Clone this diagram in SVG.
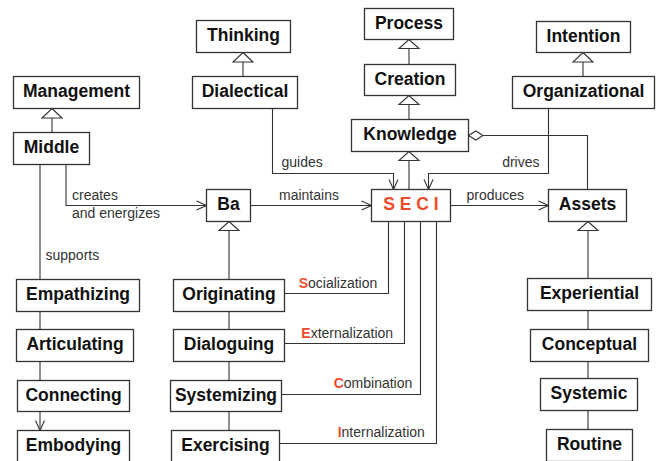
<svg xmlns="http://www.w3.org/2000/svg" width="660" height="461" viewBox="0 0 660 461">
<defs>
<style>
.box{fill:#fff;stroke:#333;stroke-width:1.3}
.nt{font-family:"Liberation Sans",Arial,sans-serif;font-weight:bold;font-size:17.5px;fill:#111;text-anchor:middle}
.lb{font-family:"Liberation Sans",Arial,sans-serif;font-size:14px;fill:#333}
.ln{fill:none;stroke:#333;stroke-width:1.1}
.tri{fill:#fff;stroke:#333;stroke-width:1.1}
.red{fill:#ee4b2b;font-weight:bold}
</style>
<marker id="open" markerUnits="userSpaceOnUse" markerWidth="14" markerHeight="14" viewBox="-12 -6 14 12" refX="0" refY="0" orient="auto">
<path d="M-10,-4.5 L0,0 L-10,4.5" fill="none" stroke="#333" stroke-width="1.1"/>
</marker>
</defs>
<rect width="660" height="461" fill="#fff"/>
<g id="connectors">
<path class="ln" d="M66,164.5 V205.5 H206.5" marker-end="url(#open)"/>
<path class="ln" d="M40,164.5 V430.5" marker-end="url(#open)"/>
<path class="ln" d="M250.5,205.5 H371.5" marker-end="url(#open)"/>
<path class="ln" d="M272.5,108.5 V173.5 H393.5 V189.5" marker-end="url(#open)"/>
<path class="ln" d="M548.5,108.5 V173.5 H428.5 V189.5" marker-end="url(#open)"/>
<path class="ln" d="M483,135.5 H587.5 V189.5"/>
<path class="tri" d="M468.5,135.5 L475.8,131 L483,135.5 L475.8,140 Z"/>
<path class="ln" d="M450.5,205.5 H548.5" marker-end="url(#open)"/>
<path class="ln" d="M284.5,293.5 H388.5 V221.5"/>
<path class="ln" d="M284.5,343.5 H404.5 V221.5"/>
<path class="ln" d="M281.5,394.5 H420.5 V221.5"/>
<path class="ln" d="M279.5,443.5 H436.5 V221.5"/>
<path class="ln" d="M52,118 V132.5"/>
<path class="tri" d="M52,108.5 L62,118 L42,118 Z"/>
<path class="ln" d="M243,62 V76.5"/>
<path class="tri" d="M243,52.5 L253,62 L233,62 Z"/>
<path class="ln" d="M409,48.5 V64.5"/>
<path class="tri" d="M409,39.5 L419,48.5 L399,48.5 Z"/>
<path class="ln" d="M409,104.5 V119.5"/>
<path class="tri" d="M409,95.5 L419,104.5 L399,104.5 Z"/>
<path class="ln" d="M409,160.5 V189.5"/>
<path class="tri" d="M409,151.5 L419,160.5 L399,160.5 Z"/>
<path class="ln" d="M583,62 V76.5"/>
<path class="tri" d="M583,52.5 L593,62 L573,62 Z"/>
<path class="ln" d="M229,230.5 V430.5"/>
<path class="tri" d="M229,221.5 L239,230.5 L219,230.5 Z"/>
<path class="ln" d="M588,230.5 V429.5"/>
<path class="tri" d="M588,221.5 L598,230.5 L578,230.5 Z"/>
<text class="lb" x="72" y="200">creates</text>
<text class="lb" x="72" y="217.5">and energizes</text>
<text class="lb" x="279" y="200">maintains</text>
<text class="lb" x="281.5" y="166.5">guides</text>
<text class="lb" x="539.5" y="166.5" text-anchor="end">drives</text>
<text class="lb" x="466.5" y="200">produces</text>
<text class="lb" x="45.5" y="259.5">supports</text>
<text class="lb" x="298.7" y="287.7"><tspan class="red">S</tspan>ocialization</text>
<text class="lb" x="301.3" y="337.7"><tspan class="red">E</tspan>xternalization</text>
<text class="lb" x="333.7" y="387.7"><tspan class="red">C</tspan>ombination</text>
<text class="lb" x="337.7" y="437.3"><tspan class="red">I</tspan>nternalization</text>
</g>
<g id="management"><rect class="box" x="13.5" y="76.5" width="126" height="32"/><text class="nt" x="76.5" y="97">Management</text></g>
<g id="middle"><rect class="box" x="13.5" y="132.5" width="76" height="32"/><text class="nt" x="51.5" y="153">Middle</text></g>
<g id="thinking"><rect class="box" x="196.5" y="20.5" width="94" height="32"/><text class="nt" x="243.5" y="41">Thinking</text></g>
<g id="dialectical"><rect class="box" x="192.5" y="76.5" width="105" height="32"/><text class="nt" x="245" y="97">Dialectical</text></g>
<g id="process"><rect class="box" x="364.5" y="8.5" width="89" height="31"/><text class="nt" x="409" y="28.5">Process</text></g>
<g id="creation"><rect class="box" x="364.5" y="64.5" width="91" height="31"/><text class="nt" x="410" y="84.5">Creation</text></g>
<g id="knowledge"><rect class="box" x="351.5" y="119.5" width="117" height="32"/><text class="nt" x="410" y="140">Knowledge</text></g>
<g id="intention"><rect class="box" x="536.5" y="21.5" width="94" height="31"/><text class="nt" x="583.5" y="41.5">Intention</text></g>
<g id="organizational"><rect class="box" x="512.5" y="76.5" width="142" height="32"/><text class="nt" x="583.5" y="97">Organizational</text></g>
<g id="ba"><rect class="box" x="206.5" y="189.5" width="44" height="32"/><text class="nt" x="228.5" y="210">Ba</text></g>
<g id="seci"><rect class="box" x="371.5" y="189.5" width="79" height="32"/><text class="nt" x="411" y="210" style="fill:#ee4b2b" xml:space="preserve">S E C I</text></g>
<g id="assets"><rect class="box" x="548.5" y="189.5" width="78" height="32"/><text class="nt" x="587.5" y="210">Assets</text></g>
<g id="empathizing"><rect class="box" x="16.5" y="279.5" width="123" height="32"/><text class="nt" x="78" y="300">Empathizing</text></g>
<g id="articulating"><rect class="box" x="16.5" y="329.5" width="117" height="32"/><text class="nt" x="75" y="350">Articulating</text></g>
<g id="connecting"><rect class="box" x="17.5" y="380.5" width="112" height="31"/><text class="nt" x="73.5" y="400.5">Connecting</text></g>
<g id="embodying"><rect class="box" x="17.5" y="430.5" width="112" height="32"/><text class="nt" x="73.5" y="451">Embodying</text></g>
<g id="originating"><rect class="box" x="173.5" y="279.5" width="111" height="32"/><text class="nt" x="229" y="300">Originating</text></g>
<g id="dialoguing"><rect class="box" x="173.5" y="329.5" width="111" height="32"/><text class="nt" x="229" y="350">Dialoguing</text></g>
<g id="systemizing"><rect class="box" x="170.5" y="380.5" width="111" height="31"/><text class="nt" x="226" y="400.5">Systemizing</text></g>
<g id="exercising"><rect class="box" x="171.5" y="430.5" width="108" height="32"/><text class="nt" x="225.5" y="451">Exercising</text></g>
<g id="experiential"><rect class="box" x="527.5" y="278.5" width="124" height="32"/><text class="nt" x="589.5" y="299">Experiential</text></g>
<g id="conceptual"><rect class="box" x="530.5" y="329.5" width="118" height="32"/><text class="nt" x="589.5" y="350">Conceptual</text></g>
<g id="systemic"><rect class="box" x="540.5" y="378.5" width="97" height="32"/><text class="nt" x="589" y="399">Systemic</text></g>
<g id="routine"><rect class="box" x="546.5" y="429.5" width="86" height="32"/><text class="nt" x="589.5" y="450">Routine</text></g>
</svg>
